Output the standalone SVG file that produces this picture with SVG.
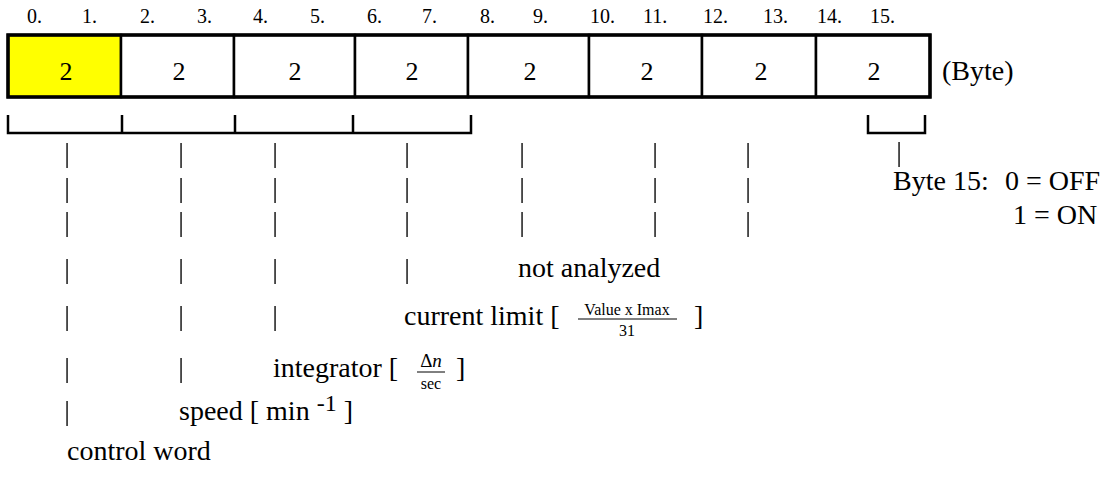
<svg xmlns="http://www.w3.org/2000/svg" width="1109" height="490" viewBox="0 0 1109 490">
<style>
text{fill:#000}
.hd{font-size:20px}
.cv{font-size:26px;text-anchor:middle}
.t{font-size:28px}
.p{font-size:28px;text-anchor:middle}
.sm{font-size:16px;text-anchor:middle}
.cell{fill:#fff;stroke:#000;stroke-width:2.5}
.br{fill:none;stroke:#000;stroke-width:2.5}
.fl{stroke:#000;stroke-width:1}
</style>
<defs>
<filter id="gray" x="0" y="0" width="1" height="1"><feOffset dx="0" dy="0"/></filter>
</defs>
<rect width="1109" height="490" fill="#fff"/>
<g font-family="'Liberation Serif', 'Times New Roman', 'DejaVu Serif', serif">
<g id="header">
<text class="hd" x="27" y="23">0.</text><text class="hd" x="82" y="23">1.</text>
<text class="hd" x="140" y="23">2.</text><text class="hd" x="197" y="23">3.</text>
<text class="hd" x="253" y="23">4.</text><text class="hd" x="310" y="23">5.</text>
<text class="hd" x="367" y="23">6.</text><text class="hd" x="422" y="23">7.</text>
<text class="hd" x="480" y="23">8.</text><text class="hd" x="533" y="23">9.</text>
<text class="hd" x="590" y="23">10.</text><text class="hd" x="643" y="23">11.</text>
<text class="hd" x="703" y="23">12.</text><text class="hd" x="763" y="23">13.</text>
<text class="hd" x="817" y="23">14.</text><text class="hd" x="870" y="23">15.</text>
</g>
<g id="cell-0-1"><rect class="cell" x="8" y="35" width="113" height="62" style="fill:#ffff00"/><text class="cv" x="66" y="80">2</text></g>
<g id="cell-2-3"><rect class="cell" x="121" y="35" width="113" height="62"/><text class="cv" x="179" y="80">2</text></g>
<g id="cell-4-5"><rect class="cell" x="234" y="35" width="121" height="62"/><text class="cv" x="295" y="80">2</text></g>
<g id="cell-6-7"><rect class="cell" x="355" y="35" width="113" height="62"/><text class="cv" x="412" y="80">2</text></g>
<g id="cell-8-9"><rect class="cell" x="468" y="35" width="121" height="62"/><text class="cv" x="530" y="80">2</text></g>
<g id="cell-10-11"><rect class="cell" x="589" y="35" width="113" height="62"/><text class="cv" x="647" y="80">2</text></g>
<g id="cell-12-13"><rect class="cell" x="702" y="35" width="114" height="62"/><text class="cv" x="761" y="80">2</text></g>
<g id="cell-14-15"><rect class="cell" x="816" y="35" width="114" height="62"/><text class="cv" x="874" y="80">2</text></g>
<rect x="8" y="35" width="922" height="62" fill="none" stroke="#000" stroke-width="3.5"/>
<g id="unit"><text class="t" x="942" y="80">(Byte)</text></g>
<g id="connectors">
<path class="br" d="M8,115 V133 H471 V115 M122,115 V133 M235,115 V133 M353,115 V133"/>
<path class="br" d="M868,115 V133 H925 V115"/>
</g>
<g id="leaders" filter="url(#gray)">
<text class="p" x="67" y="162">|</text><text class="p" x="181" y="162">|</text><text class="p" x="275" y="162">|</text><text class="p" x="407" y="162">|</text><text class="p" x="522" y="162">|</text><text class="p" x="655" y="162">|</text><text class="p" x="748" y="162">|</text><text class="p" x="899" y="161">|</text>
<text class="p" x="67" y="197">|</text><text class="p" x="181" y="197">|</text><text class="p" x="275" y="197">|</text><text class="p" x="407" y="197">|</text><text class="p" x="522" y="197">|</text><text class="p" x="655" y="197">|</text><text class="p" x="748" y="197">|</text>
<text class="p" x="67" y="231">|</text><text class="p" x="181" y="231">|</text><text class="p" x="275" y="231">|</text><text class="p" x="407" y="231">|</text><text class="p" x="522" y="231">|</text><text class="p" x="655" y="231">|</text><text class="p" x="748" y="231">|</text>
<text class="p" x="67" y="278">|</text><text class="p" x="181" y="278">|</text><text class="p" x="275" y="278">|</text><text class="p" x="407" y="278">|</text>
<text class="p" x="67" y="325">|</text><text class="p" x="181" y="325">|</text><text class="p" x="275" y="325">|</text>
<text class="p" x="67" y="377">|</text><text class="p" x="181" y="377">|</text>
<text class="p" x="67" y="420">|</text>
</g>
<g id="byte15">
<text class="t" x="893" y="190">Byte 15:</text>
<text class="t" x="1005" y="190">0 = OFF</text>
<text class="t" x="1013" y="224">1 = ON</text>
</g>
<g id="not-analyzed"><text class="t" x="518" y="277">not analyzed</text></g>
<g id="current-limit">
<text class="t" x="404" y="325">current limit [</text>
<text class="sm" x="627" y="315">Value x Imax</text>
<line class="fl" x1="578" y1="319" x2="677" y2="319"/>
<text class="sm" x="627" y="336">31</text>
<text class="t" x="694" y="325">]</text>
</g>
<g id="integrator">
<text class="t" x="273" y="377">integrator [</text>
<text x="431" y="367" style="font-size:19px;text-anchor:middle">Δ<tspan font-style="italic">n</tspan></text>
<line class="fl" x1="417" y1="372" x2="445" y2="372"/>
<text class="sm" x="431" y="389">sec</text>
<text class="t" x="456" y="377">]</text>
</g>
<g id="speed">
<text class="t" x="179" y="420">speed [ min <tspan dy="-9" style="font-size:24px">-1</tspan><tspan dy="9"> ]</tspan></text>
</g>
<g id="control-word"><text class="t" x="67" y="460">control word</text></g>
</g>
</svg>
